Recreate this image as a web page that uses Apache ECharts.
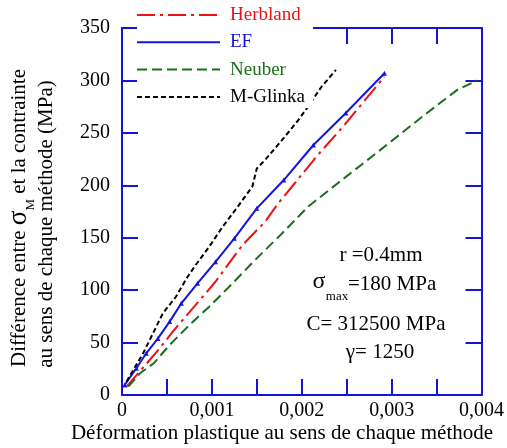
<!DOCTYPE html>
<html><head><meta charset="utf-8">
<script src="https://cdn.jsdelivr.net/npm/echarts@6/dist/echarts.min.js"></script>
<style>html,body{margin:0;padding:0;background:#fff}#c{width:507px;height:448px}</style>
</head><body><div id="c"></div>
<script>
const seriesNames = ['Herbland', 'EF', 'Neuber', 'M-Glinka'];
const herbland = [[0.00005,8],[0.00023,25.7],[0.00042,44.5],[0.000565,60.4],[0.00077,81],[0.000915,95.4],[0.00104,108],[0.00134,143],[0.00159,165],[0.00174,183],[0.00189,198.6],[0.00218,229],[0.00246,256],[0.00292,303.6]];
const ef = [[0.00003,9.5],[0.00016,25.5],[0.00027,39.8],[0.0004,54],[0.00053,70],[0.00066,87.4],[0.00084,106.5],[0.00104,127],[0.00125,149.4],[0.0015,178],[0.0018,205],[0.00213,238.4],[0.00249,269],[0.00292,306.8]];
const neuber = [[0.00007,8],[0.0002,20.7],[0.00035,30],[0.00053,47.7],[0.00075,66.8],[0.00097,84.2],[0.00119,103],[0.00148,128.7],[0.00178,154],[0.00207,179.6],[0.0024,202],[0.00273,224],[0.00306,246.3],[0.00339,268.7],[0.00373,291],[0.00395,300]];
const mGlinka = [[0.00005,12.7],[0.000125,23.8],[0.000235,39.8],[0.000345,58.8],[0.000455,78],[0.0006,93.7],[0.00073,112.8],[0.00082,124],[0.00097,141.4],[0.00112,160.5],[0.00126,176.4],[0.00145,198.6],[0.0015,216],[0.00159,224],[0.00178,243],[0.00196,262],[0.00207,275],[0.00222,294],[0.00238,310]];
const xTickLabels = ['0', '0,001', '0,002', '0,003', '0,004'];
const yTickLabels = ['0', '50', '100', '150', '200', '250', '300', '350'];

const FONT = 'Liberation Serif';
const BLUE = '#1414d8';
const colors = ['#ee1111', '#1414e0', '#1a6e1a', '#000000'];
const dashes = [[18,5,3,5], null, [10,5], [5,3]];
const datasets = [herbland, ef, neuber, mGlinka];

const tickStyle = {inside: true, length: 16, lineStyle: {color: BLUE, width: 2}};
const lineStyleAx = {onZero: false, lineStyle: {color: BLUE, width: 2}};

// legend block (white box over the top axis, as in the reference)
const legendGraphics = [{type: 'rect', shape: {x: 137, y: 0, width: 176, height: 108}, style: {fill: '#fff'}, z: 50}];
seriesNames.forEach((n, i) => {
  const y = 15 + i * 27.3;
  legendGraphics.push({type: 'line', shape: {x1: 137, y1: y, x2: 220, y2: y}, z: 51,
    style: {stroke: colors[i], lineWidth: 2, lineDash: dashes[i] || null}});
  legendGraphics.push({type: 'text', x: 230, y: y, z: 51,
    style: {text: n, fill: colors[i], fontFamily: FONT, fontSize: 19, align: 'left', verticalAlign: 'middle'}});
});

const chart = echarts.init(document.getElementById('c'), null, {renderer: 'canvas'});
chart.setOption({
  animation: false,
  backgroundColor: '#fff',
  textStyle: {fontFamily: FONT},
  grid: {left: 122, right: 22, top: 28, bottom: 53},
  xAxis: [
    {type: 'value', min: 0, max: 0.004, interval: 0.0005, position: 'bottom',
     axisLine: lineStyleAx, axisTick: tickStyle, splitLine: {show: false},
     axisLabel: {color: '#000', fontFamily: FONT, fontSize: 20, margin: 6, showMinLabel: true, showMaxLabel: true, hideOverlap: false,
       formatter: v => { const k = Math.round(v / 0.0005); return k % 2 ? '' : xTickLabels[k / 2]; }}},
    {type: 'value', min: 0, max: 0.004, interval: 0.0005, position: 'top',
     axisLine: lineStyleAx, axisTick: tickStyle, splitLine: {show: false}, axisLabel: {show: false}}
  ],
  yAxis: [
    {type: 'value', min: 0, max: 350, interval: 50, position: 'left',
     axisLine: lineStyleAx, axisTick: tickStyle, splitLine: {show: false},
     axisLabel: {color: '#000', fontFamily: FONT, fontSize: 20, margin: 12, showMinLabel: true, showMaxLabel: true,
       formatter: v => yTickLabels[Math.round(v / 50)]}},
    {type: 'value', min: 0, max: 350, interval: 50, position: 'right',
     axisLine: lineStyleAx, axisTick: tickStyle, splitLine: {show: false}, axisLabel: {show: false}}
  ],
  series: seriesNames.map((n, i) => ({
    name: n, type: 'line', data: datasets[i],
    showSymbol: i === 1, symbol: i === 1 ? 'triangle' : 'none', symbolSize: 5,
    itemStyle: {color: colors[i]},
    lineStyle: {color: colors[i], width: 2, type: dashes[i] || 'solid'},
    z: 3
  })),
  graphic: legendGraphics.concat([
    {type: 'text', x: 19, y: 218, rotation: Math.PI / 2, z: 20,
     style: {text: '{n|Différence entre }{s|σ}{m|M}{n| et la contrainte}', align: 'center', verticalAlign: 'middle',
       fill: '#000', fontFamily: FONT, fontSize: 21,
       rich: {n: {fontFamily: FONT, fontSize: 21, lineHeight: 36, verticalAlign: 'middle'},
              s: {fontFamily: FONT, fontSize: 27, lineHeight: 36, verticalAlign: 'middle'},
              m: {fontFamily: FONT, fontSize: 13, lineHeight: 36, verticalAlign: 'bottom'}}}},
    {type: 'text', x: 46, y: 224, rotation: Math.PI / 2, z: 20,
     style: {text: 'au sens de chaque méthode (MPa)', align: 'center', verticalAlign: 'middle', fill: '#000', fontFamily: FONT, fontSize: 21}},
    {type: 'text', x: 282, y: 433, z: 20,
     style: {text: 'Déformation plastique au sens de chaque méthode', align: 'center', verticalAlign: 'middle', fill: '#000', fontFamily: FONT, fontSize: 21}},
    {type: 'text', x: 381, y: 255, z: 20,
     style: {text: 'r =0.4mm', align: 'center', verticalAlign: 'middle', fill: '#000', fontFamily: FONT, fontSize: 21}},
    {type: 'text', x: 319, y: 282, z: 20,
     style: {text: 'σ', align: 'center', verticalAlign: 'middle', fill: '#000', fontFamily: FONT, fontSize: 24}},
    {type: 'text', x: 337, y: 297, z: 20,
     style: {text: 'max', align: 'center', verticalAlign: 'middle', fill: '#000', fontFamily: FONT, fontSize: 13}},
    {type: 'text', x: 348, y: 284, z: 20,
     style: {text: '=180 MPa', align: 'left', verticalAlign: 'middle', fill: '#000', fontFamily: FONT, fontSize: 21}},
    {type: 'text', x: 376, y: 324, z: 20,
     style: {text: 'C= 312500 MPa', align: 'center', verticalAlign: 'middle', fill: '#000', fontFamily: FONT, fontSize: 21}},
    {type: 'text', x: 380, y: 352, z: 20,
     style: {text: 'γ= 1250', align: 'center', verticalAlign: 'middle', fill: '#000', fontFamily: FONT, fontSize: 21}}
  ])
});
</script></body></html>
